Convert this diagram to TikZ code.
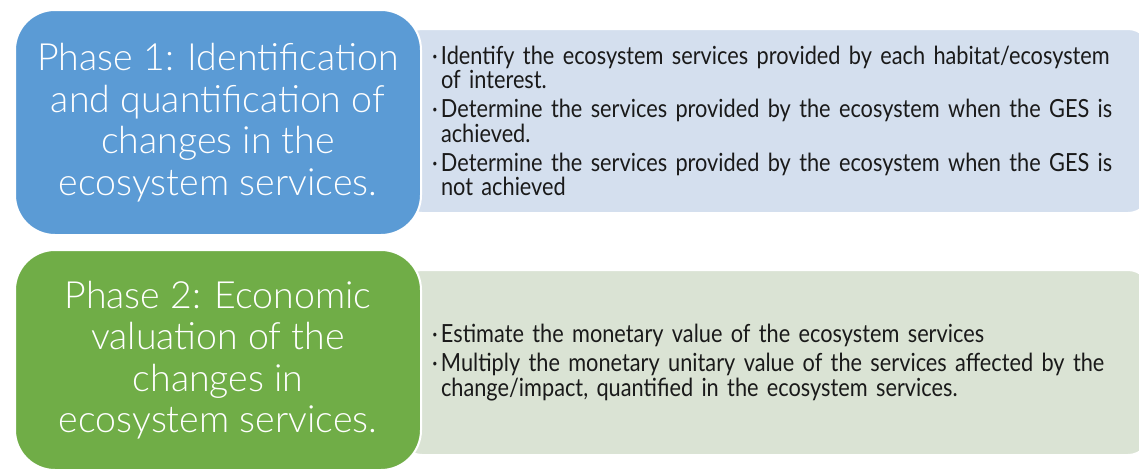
\documentclass[tikz,border=0pt]{standalone}
\usepackage{fontspec}
\setmainfont{Lato}
\newfontfamily\titlefont{Lato Light}
\newfontfamily\descfont{Lato}[FakeStretch=0.87]
\definecolor{phaseblue}{HTML}{5B9BD5}
\definecolor{lightblue}{HTML}{D4DFEE}
\definecolor{phasegreen}{HTML}{70AD47}
\definecolor{lightgreen}{HTML}{DAE3D4}
\definecolor{desctext}{HTML}{1A1A1A}
\tikzset{
  phasebox/.style={draw=white, line width=2pt, rounded corners=40pt, text=white,
    align=center, minimum width=406pt, inner sep=0pt,
    font=\titlefont\fontsize{37.5}{41.5}\selectfont},
  descbox/.style={draw=white, line width=2pt, rounded corners=22pt, text=desctext,
    align=left, minimum width=750pt, text width=686pt, inner xsep=32pt, inner ysep=0pt,
    font=\descfont\fontsize{25}{24.5}\selectfont},
}
\newcommand{\bitem}[1]{\raggedright\hangindent=9pt\hangafter=1\noindent\makebox[9pt][l]{·}#1\par}
\begin{document}
\begin{tikzpicture}[x=1pt,y=-1pt]
\useasboundingbox (0,0) rectangle (1139,472);
\clip (0,0) rectangle (1139,472);
\fill[white] (0,0) rectangle (1139,472);
\node[descbox, fill=lightblue, minimum height=184pt] (d1) at (775,121) {%
  \bitem{Identify the ecosystem services provided by each habitat/ecosystem\newline of interest.}\vspace{4.5pt}%
  \bitem{Determine the services provided by the ecosystem when the GES is\newline achieved.}\vspace{4.5pt}%
  \bitem{Determine the services provided by the ecosystem when the GES is\newline not achieved}};
\node[phasebox, fill=phaseblue, minimum height=225pt] (p1) at (218,122.5)
  {Phase 1: Identification\\and quantification of\\changes in the\\ecosystem services.};
\node[descbox, fill=lightgreen, minimum height=185pt] (d2) at (775,362.5) {%
  \bitem{Estimate the monetary value of the ecosystem services}\vspace{4.5pt}%
  \bitem{Multiply the monetary unitary value of the services affected by the\newline change/impact, quantified in the ecosystem services.}};
\node[phasebox, fill=phasegreen, minimum height=220pt] (p2) at (218,360)
  {Phase 2: Economic\\valuation of the\\changes in\\ecosystem services.};
\end{tikzpicture}
\end{document}
